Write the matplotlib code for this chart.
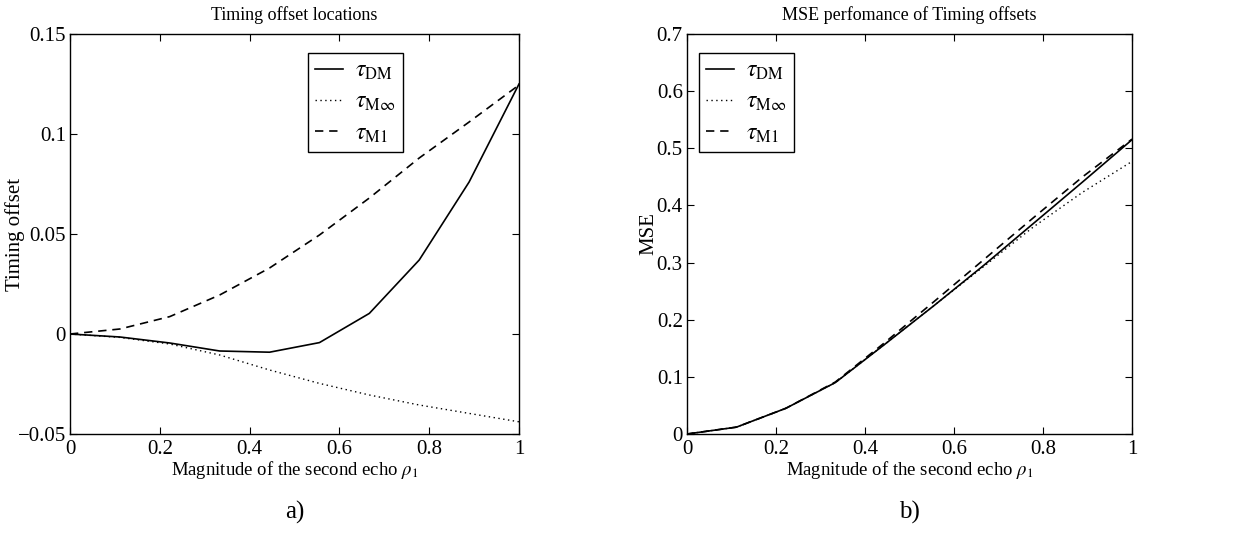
import matplotlib
matplotlib.use("Agg")
import matplotlib.pyplot as plt
import numpy as np

plt.rcParams['font.family'] = ['Liberation Serif', 'DejaVu Serif']
plt.rcParams['mathtext.fontset'] = 'stix'

rho = [0, 1/9, 2/9, 3/9, 4/9, 5/9, 6/9, 7/9, 8/9, 1]

# Panel a) timing offsets
off_dm = [0, -0.0015, -0.0045, -0.0085, -0.0091, -0.0043, 0.0103, 0.037, 0.076, 0.125]
off_minf = [0, -0.0017, -0.005, -0.0105, -0.018, -0.0247, -0.0305, -0.0355, -0.0397, -0.0439]
off_m1 = [0, 0.0025, 0.0087, 0.0195, 0.033, 0.0495, 0.068, 0.088, 0.106, 0.1245]

# Panel b) MSE
mse_dm = [0, 0.012, 0.045, 0.09, 0.157, 0.225, 0.295, 0.368, 0.441, 0.515]
mse_minf = [0, 0.012, 0.045, 0.09, 0.157, 0.225, 0.293, 0.362, 0.423, 0.477]
mse_m1 = [0, 0.012, 0.045, 0.091, 0.160, 0.232, 0.305, 0.378, 0.450, 0.516]

labels = [r'$\tau_{\mathrm{DM}}$', r'$\tau_{\mathrm{M\infty}}$', r'$\tau_{\mathrm{M1}}$']

fig = plt.figure(figsize=(12.45, 5.49), dpi=100)
W, H = 1245, 549
axA = fig.add_axes([70/W, 1-434/H, 449/W, 400/H])
axB = fig.add_axes([687/W, 1-434/H, 445/W, 400/H])

def style(ax):
    ax.tick_params(direction='in', top=True, right=True, labelsize=15, length=5, width=0.8)
    ax.tick_params(axis='y', pad=3)
    ax.tick_params(axis='x', pad=4)
    for s in ax.spines.values():
        s.set_linewidth(1.0)

for ax, ys, yl, ylab, ylx, title, sub, legx in [
    (axA, (off_dm, off_minf, off_m1), (-0.05, 0.15), 'Timing offset', -0.100, 'Timing offset locations', 'a)', 0.53),
    (axB, (mse_dm, mse_minf, mse_m1), (0, 0.7), 'MSE', -0.065, 'MSE perfomance of Timing offsets', 'b)', 0.027),
]:
    ax.plot(rho, ys[0], 'k-', lw=1.2, label=labels[0])
    ax.plot(rho, ys[1], 'k', ls=(0, (1, 2.5)), lw=1.0, label=labels[1])
    ax.plot(rho, ys[2], 'k', ls=(0, (5, 3.5)), lw=1.2, label=labels[2])
    ax.set_xlim(0, 1)
    ax.set_ylim(*yl)
    ax.set_xticks([0, 0.2, 0.4, 0.6, 0.8, 1])
    ax.set_xticklabels(['0', '0.2', '0.4', '0.6', '0.8', '1'])
    style(ax)
    ax.set_xlabel(r'Magnitude of the second echo $\rho_1$', fontsize=13.5, labelpad=0)
    ax.set_ylabel(ylab, fontsize=15)
    ax.yaxis.set_label_coords(ylx, 0.5)
    ax.set_title(title, fontsize=13, pad=10)
    leg = ax.legend(loc='upper left', bbox_to_anchor=(legx, 0.952), fontsize=17,
                    fancybox=False, edgecolor='black', framealpha=1, borderaxespad=0,
                    handlelength=1.2, borderpad=0.3, labelspacing=0.4, handletextpad=0.5)
    leg.get_frame().set_linewidth(1.0)
    ax.text(0.5, -0.195, sub, transform=ax.transAxes, ha='center', va='center', fontsize=18)

axA.set_yticks([-0.05, 0, 0.05, 0.1, 0.15])
axA.set_yticklabels(['\u22120.05', '0', '0.05', '0.1', '0.15'])
axB.set_yticks([0, 0.1, 0.2, 0.3, 0.4, 0.5, 0.6, 0.7])
axB.set_yticklabels(['0', '0.1', '0.2', '0.3', '0.4', '0.5', '0.6', '0.7'])

fig.savefig('out.png', dpi=100)
